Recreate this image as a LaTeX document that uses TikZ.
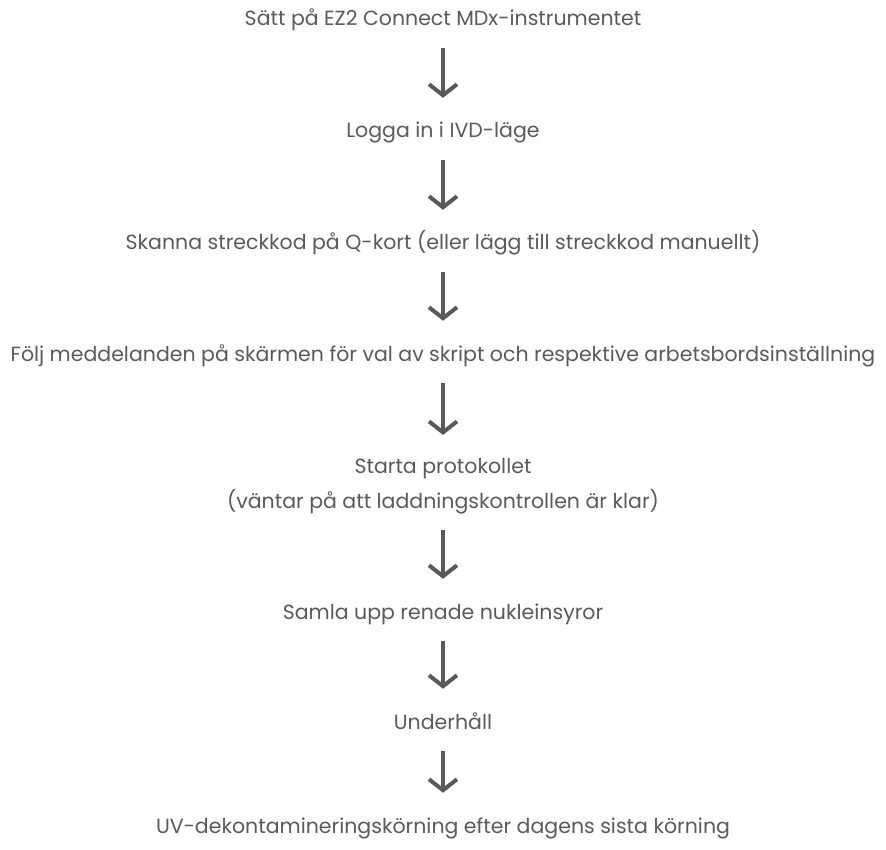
\documentclass[tikz,border=0pt]{standalone}
\usepackage{fontspec}
\setmainfont{Poppins}
\usetikzlibrary{arrows.meta}
\definecolor{txtgray}{HTML}{5A5A5A}
\definecolor{arrgray}{HTML}{595959}
\begin{document}
\begin{tikzpicture}[x=1pt,y=1pt,
  basenode/.style={inner sep=0pt, text=txtgray, font=\fontsize{20.5}{35}\selectfont, align=center},
  stepnode/.style={basenode, text height=14.5pt, text depth=4.5pt},
  flowarrow/.style={draw=arrgray, line width=4pt, -{Straight Barb[length=11pt,width=28pt]}, shorten <=17.5pt, shorten >=25.5pt}]
\useasboundingbox (0,0) rectangle (886,-850);
\node[stepnode] (t1) at (443,-21) {Sätt på EZ2 Connect MDx-instrumentet};
\node[stepnode] (t2) at (443,-133) {Logga in i IVD-läge};
\node[stepnode] (t3) at (443,-245) {Skanna streckkod på Q-kort (eller lägg till streckkod manuellt)};
\node[stepnode] (t4) at (443,-356) {Följ meddelanden på skärmen för val av skript och respektive arbetsbordsinställning};
\node[basenode] (t5) at (443,-486) {Starta protokollet\\(väntar på att laddningskontrollen är klar)};
\node[stepnode] (t6) at (443,-614) {Samla upp renade nukleinsyror};
\node[stepnode] (t7) at (443,-724) {Underhåll};
\node[stepnode] (t8) at (443,-828) {UV-dekontamineringskörning efter dagens sista körning};
\draw[flowarrow] (t1) -- (t2);
\draw[flowarrow] (t2) -- (t3);
\draw[flowarrow] (t3) -- (t4);
\draw[flowarrow, shorten >=23pt] (t4.south) -- (t5.north);
\draw[flowarrow, shorten <=16pt] (t5.south) -- (t6.north);
\draw[flowarrow] (t6) -- (t7);
\draw[flowarrow] (t7) -- (t8);
\end{tikzpicture}
\end{document}
